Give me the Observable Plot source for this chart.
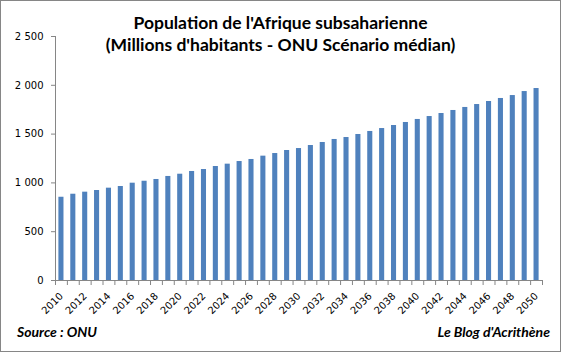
<!DOCTYPE html>
<html><head><meta charset="utf-8">
<script src="https://cdn.jsdelivr.net/npm/d3@7"></script>
<script src="https://cdn.jsdelivr.net/npm/@observablehq/plot@0.6"></script>
<style>
body{margin:0;background:#fff}
#wrap{position:relative;width:561px;height:352px;overflow:hidden;background:#fff}
#wrap svg{position:absolute;left:0;top:0}
#frame{position:absolute;left:0;top:0;width:561px;height:352px;box-sizing:border-box;border:1px solid #868686;pointer-events:none}
.title{position:absolute;left:0;width:561px;text-align:center;font-family:Lato,"Open Sans",sans-serif;font-weight:bold;font-size:17.5px;color:#000;line-height:22px}
.foot{position:absolute;top:323px;font-family:Lato,"Open Sans",sans-serif;font-weight:bold;font-style:italic;font-size:14px;color:#000}
</style>
</head><body>
<div id="wrap">
  <div id="chart"></div>
  <div class="title" style="top:12px">Population de l'Afrique subsaharienne<br>(Millions d'habitants - ONU Scénario médian)</div>
  <div class="foot" style="left:17px">Source : ONU</div>
  <div class="foot" style="right:11px">Le Blog d'Acrithène</div>
  <div id="frame"></div>
</div>
<script>
const years = [2010,2011,2012,2013,2014,2015,2016,2017,2018,2019,2020,2021,2022,2023,2024,2025,2026,2027,2028,2029,2030,2031,2032,2033,2034,2035,2036,2037,2038,2039,2040,2041,2042,2043,2044,2045,2046,2047,2048,2049,2050];
const population = [853,884,905,922,946,963,997,1017,1035,1066,1089,1117,1137,1168,1192,1219,1240,1274,1301,1332,1352,1383,1414,1445,1465,1496,1527,1557,1588,1619,1650,1680,1711,1742,1773,1803,1834,1865,1895,1936,1967];
const yTicks = [0,500,1000,1500,2000,2500];
const xLabels = [2010,2012,2014,2016,2018,2020,2022,2024,2026,2028,2030,2032,2034,2036,2038,2040,2042,2044,2046,2048,2050];

const data = years.map((y,i) => ({year: y, value: population[i]}));
const bounds = years.map(y => y - 0.5).concat([years[years.length-1] + 0.5]);
const fmt = d3.formatLocale({decimal: ",", thousands: " ", grouping: [3], currency: ["", ""]}).format(",");
const gray = "#868686";

const chart = Plot.plot({
  width: 561,
  height: 352,
  marginLeft: 55,
  marginRight: 19,
  marginTop: 36,
  marginBottom: 72,
  style: {fontFamily: "'DejaVu Sans', sans-serif", fontSize: "10px", background: "transparent", color: "#000"},
  x: {type: "linear", domain: [2009.5, 2050.5], axis: null},
  y: {domain: [0, 2500], axis: null},
  marks: [
    Plot.rectY(data, {x1: d => d.year - 0.5, x2: d => d.year + 0.5, y: "value", fill: "#4F81BD", insetLeft: 3.4, insetRight: 3.4}),
    Plot.ruleX([2009.5], {y1: 0, y2: 2500, stroke: gray, strokeWidth: 1}),
    Plot.ruleY([0], {stroke: gray, strokeWidth: 1}),
    Plot.axisY({ticks: yTicks, tickSize: 4, tickPadding: 8, tickFormat: fmt, label: null, stroke: gray, fill: "#000", fontSize: 10}),
    Plot.axisX({ticks: bounds, tickSize: 5, tickFormat: () => "", label: null, stroke: gray}),
    Plot.axisX({ticks: xLabels, tickSize: 0, tickPadding: 14, tickRotate: -45, tickFormat: d => String(d), label: null, fill: "#000", fontSize: 10})
  ]
});
document.getElementById("chart").appendChild(chart);
</script>
</body></html>
